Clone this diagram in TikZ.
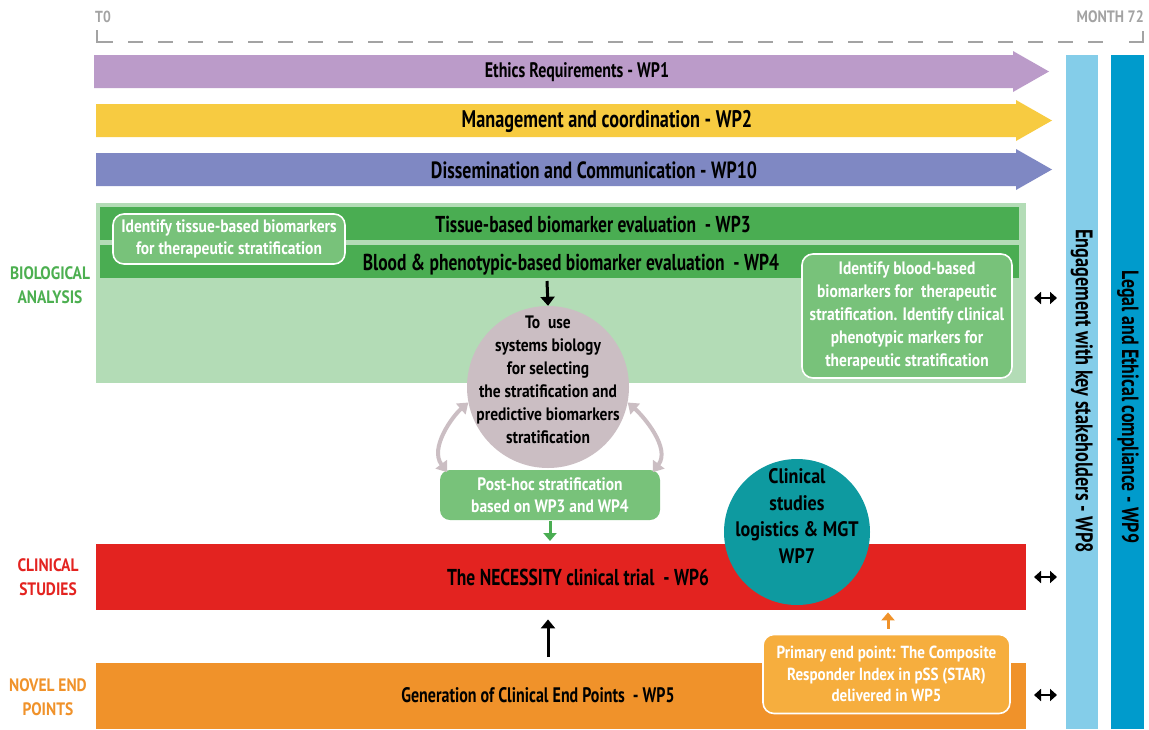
\documentclass[tikz,border=0pt]{standalone}
\usepackage{fontspec}
\setmainfont{PT Sans}[FakeStretch=0.86]
\newfontfamily\condensed{PT Sans}[FakeStretch=0.76]
\usetikzlibrary{arrows.meta,calc}

\definecolor{lilac}{HTML}{BB9BC9}
\definecolor{sun}{HTML}{F7CB41}
\definecolor{periwinkle}{HTML}{7F88C3}
\definecolor{palegreen}{HTML}{B3DCB6}
\definecolor{leaf}{HTML}{4AAD52}
\definecolor{notegreen}{HTML}{78C27A}
\definecolor{trialred}{HTML}{E32320}
\definecolor{endorange}{HTML}{F0922A}
\definecolor{noteorange}{HTML}{F6AE3E}
\definecolor{mauve}{HTML}{CBBEC3}
\definecolor{teal7}{HTML}{0E9AA0}
\definecolor{skyblue}{HTML}{84CDE9}
\definecolor{oceanblue}{HTML}{009BCC}
\definecolor{timegray}{HTML}{A3A3A3}
\definecolor{labelgreen}{HTML}{4CAF50}
\definecolor{labelred}{HTML}{E32320}
\definecolor{labelorange}{HTML}{F0922A}

\newcommand{\titlesize}[1]{\condensed\bfseries\fontsize{#1}{#1}\selectfont}

\begin{document}
\begin{tikzpicture}[x=1pt,y=-1pt,
  every node/.style={font=\titlesize{23}},
  band/.style={draw=none, inner sep=0pt, anchor=north west},
  title/.style={text=black},
  note/.style={rounded corners=11pt, draw=white, line width=1.6pt, text=white,
    align=center, inner sep=4pt, font=\bfseries\fontsize{18}{22}\selectfont},
  side/.style={align=center, font=\bfseries\fontsize{18}{24}\selectfont},
  timeline/.style={draw=timegray, line width=2pt},
  flow/.style={line width=3pt, -{Triangle[width=14pt,length=9pt]}},
  both/.style={line width=2.6pt, {Triangle[width=12pt,length=7pt]}-{Triangle[width=12pt,length=7pt]}},
  loop/.style={draw=mauve, line width=4pt, {Triangle[width=14pt,length=10pt]}-{Triangle[width=14pt,length=10pt]}}
]
\useasboundingbox (0,0) rectangle (1149,729);

% time axis
\node[font=\bfseries\fontsize{16}{18}\selectfont, text=timegray, anchor=west, inner sep=0pt] (t0) at (95,17) {T0};
\node[font=\bfseries\fontsize{16.5}{18}\selectfont, text=timegray, anchor=east, inner sep=0pt] (m72) at (1144,17) {MONTH 72};
\draw[timeline] (97,30) -- (97,42) -- (113,42);
\draw[timeline, dash pattern=on 15pt off 15pt] (128,42) -- (1114,42);
\draw[timeline] (1129,42) -- (1143,42) -- (1143,31);

% transversal work packages
\fill[lilac] (94,55) -- (1013,55) -- (1013,51) -- (1049,71.5) -- (1013,92) -- (1013,88) -- (94,88) -- cycle;
\node[title, font=\titlesize{21}] (wp1) at (577,72) {Ethics Requirements - WP1};
\fill[sun] (96,104) -- (1016,104) -- (1016,100) -- (1052,120.5) -- (1016,141) -- (1016,137) -- (96,137) -- cycle;
\node[title, font=\titlesize{24}] (wp2) at (607,121) {Management and coordination - WP2};
\fill[periwinkle] (96,153) -- (1016,153) -- (1016,149) -- (1052,169.5) -- (1016,190) -- (1016,186) -- (96,186) -- cycle;
\node[title, font=\titlesize{23.5}] (wp10) at (594,170) {Dissemination and Communication - WP10};

% vertical work packages
\node[band, fill=skyblue, minimum width=32pt, minimum height=674pt] (wp8bar) at (1066,55) {};
\node[rotate=-90, font=\titlesize{24}] (wp8) at (1082,391) {Engagement with key stakeholders - WP8};
\node[band, fill=oceanblue, minimum width=33pt, minimum height=674pt] (wp9bar) at (1111,55) {};
\node[rotate=-90, font=\titlesize{23.5}] (wp9) at (1128,407) {Legal and Ethical compliance - WP9};

% biological analysis
\node[band, fill=palegreen, minimum width=930pt, minimum height=180pt] (bio) at (96,203) {};
\node[band, fill=leaf, minimum width=919pt, minimum height=33pt] (wp3bar) at (100,207) {};
\node[title] (wp3) at (593,224) {Tissue-based biomarker evaluation\ \ - WP3};
\node[band, fill=leaf, minimum width=919pt, minimum height=33pt] (wp4bar) at (100,245) {};
\node[title] (wp4) at (571,265) {Blood \& phenotypic-based biomarker evaluation\ \ - WP4};
\node[note, fill=notegreen, minimum width=232pt, minimum height=50pt] (tissue) at (229,239)
  {Identify tissue-based biomarkers\\for therapeutic stratification};
\node[note, fill=notegreen, minimum width=210pt, minimum height=124pt, font=\bfseries\fontsize{18}{23}\selectfont] (blood) at (907,316)
  {Identify blood-based\\biomarkers for\ \ therapeutic\\stratification. Identify clinical\\phenotypic markers for\\therapeutic stratification};

\node[circle, fill=mauve, minimum size=162pt, inner sep=0pt] (sysbio) at (548,387) {};
\node[align=center, font=\bfseries\fontsize{18}{23}\selectfont] (sysbiotext) at (548,380)
  {To\ \ use\\systems biology\\for selecting\\the stratification and\\predictive biomarkers\\stratification};
\coordinate (wp4out) at (547,281);
\draw[flow] (wp4out) -- (sysbio.north);

\node[note, draw=none, fill=notegreen, minimum width=220pt, minimum height=50pt, rounded corners=10pt] (posthoc) at (550,495)
  {Post-hoc stratification\\based on WP3 and WP4};
\draw[loop] ([xshift=8pt,yshift=-3pt]posthoc.north west) .. controls +(-18,-24) and +(-16,14) .. (sysbio.191);
\draw[loop] ([xshift=-8pt,yshift=-3pt]posthoc.north east) .. controls +(18,-24) and +(16,14) .. (sysbio.-11);

% clinical studies
\node[band, fill=trialred, minimum width=930pt, minimum height=66pt] (trial) at (96,544) {};
\node[title] (wp6) at (578,577) {The NECESSITY clinical trial\ \ - WP6};
\draw[flow, draw=leaf, -{Triangle[width=13pt,length=8pt]}] (posthoc.south) -- ([yshift=3pt]trial.north -| posthoc.south);

\node[circle, fill=teal7, minimum size=146pt, inner sep=0pt] (wp7c) at (797,532) {};
\node[align=center, font=\bfseries\fontsize{21}{26.5}\selectfont] (wp7) at (797,516)
  {Clinical\\studies\\logistics \& MGT\\WP7};

% novel end points
\node[band, fill=endorange, minimum width=930pt, minimum height=66pt] (endpts) at (96,663) {};
\node[title, font=\titlesize{21}] (wp5) at (538,695) {Generation of Clinical End Points\ \ - WP5};
\coordinate (wp5out) at ([yshift=6pt]endpts.north -| sysbio);
\draw[flow] (wp5out) -- ([yshift=-9pt]trial.south -| sysbio);
\node[note, fill=noteorange, minimum width=247pt, minimum height=79pt, font=\bfseries\fontsize{17.5}{21.5}\selectfont] (star) at (886.5,674)
  {Primary end point: The Composite\\Responder Index in pSS (STAR)\\delivered in WP5};
\draw[flow, draw=endorange, -{Triangle[width=13pt,length=8pt]}] ([yshift=5pt]star.north -| 888,0) -- ([yshift=-2pt]trial.south -| 888,0);

% links to the stakeholder column
\coordinate (l1) at (1034,298); \coordinate (r1) at (1057,298);
\coordinate (l2) at (1034,577); \coordinate (r2) at (1057,577);
\coordinate (l3) at (1034,695); \coordinate (r3) at (1057,695);
\draw[both] (l1) -- (r1);
\draw[both] (l2) -- (r2);
\draw[both] (l3) -- (r3);

% row labels
\node[side, text=labelgreen] (biolab) at (50,285) {BIOLOGICAL\\ANALYSIS};
\node[side, text=labelred] (cliniclab) at (48,577) {CLINICAL\\STUDIES};
\node[side, text=labelorange] (endlab) at (48,697) {NOVEL END\\POINTS};
\end{tikzpicture}
\end{document}
